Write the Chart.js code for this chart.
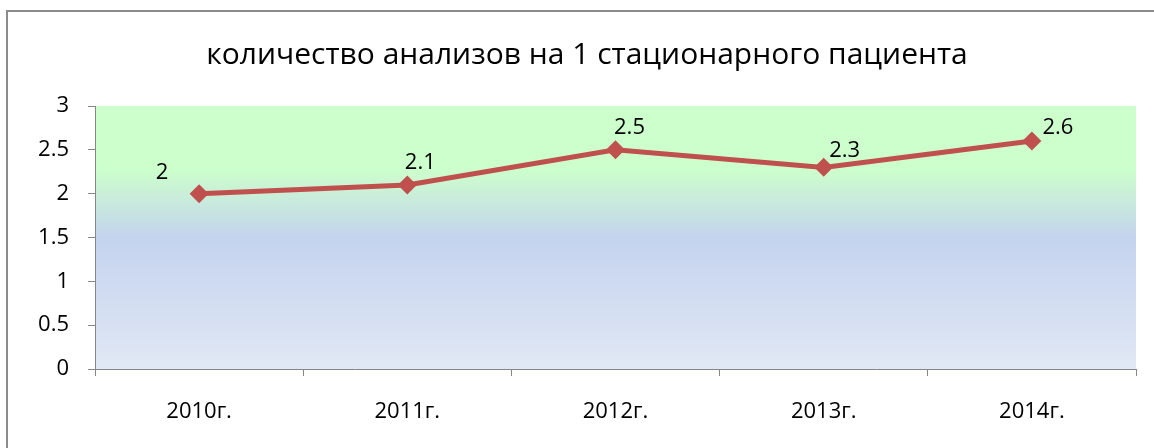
<!DOCTYPE html>
<html>
<head>
<meta charset="utf-8">
<script src="https://cdn.jsdelivr.net/npm/chart.js@4.4.0/dist/chart.umd.min.js"></script>
<style>
  html, body { margin: 0; padding: 0; background: #fff; }
  #wrap { width: 1154px; height: 448px; position: relative; }
</style>
</head>
<body>
<div id="wrap"><canvas id="lineChart"></canvas></div>
<script>
// данные графика
var chartTitle = 'количество анализов на 1 стационарного пациента';
var years = ['2010г.', '2011г.', '2012г.', '2013г.', '2014г.'];
var analyses = [2, 2.1, 2.5, 2.3, 2.6];
var yTicks = [0, 0.5, 1, 1.5, 2, 2.5, 3];

var FONT = '"Open Sans", "DejaVu Sans", sans-serif';

// рамка диаграммы и фон области построения
var backPlugin = {
  id: 'backPlugin',
  beforeDraw: function(chart) {
    var ctx = chart.ctx, a = chart.chartArea;
    ctx.save();
    ctx.strokeStyle = '#8c8c8c';
    ctx.lineWidth = 2;
    ctx.strokeRect(7, 11, 1160, 460);
    var g = ctx.createLinearGradient(0, a.top, 0, a.bottom);
    g.addColorStop(0, '#ccffcc');
    g.addColorStop(0.24, '#ccffcc');
    g.addColorStop(0.5, '#c4d3ee');
    g.addColorStop(1, '#e1e8f5');
    ctx.fillStyle = g;
    ctx.fillRect(a.left, a.top, a.right - a.left, a.bottom - a.top);
    ctx.restore();
  }
};

// подписи значений (смещения как в исходной диаграмме)
var labelShift = [[-37, -21], [13, -22], [14, -22], [21, -17], [26, -13]];
var labelPlugin = {
  id: 'labelPlugin',
  afterDatasetsDraw: function(chart) {
    var ctx = chart.ctx;
    var meta = chart.getDatasetMeta(0);
    ctx.save();
    ctx.font = '22px ' + FONT;
    ctx.fillStyle = '#000';
    ctx.textAlign = 'center';
    ctx.textBaseline = 'middle';
    meta.data.forEach(function(pt, i) {
      ctx.fillText(String(analyses[i]), pt.x + labelShift[i][0], pt.y + labelShift[i][1]);
    });
    ctx.restore();
  }
};

var ctxLine = document.getElementById('lineChart').getContext('2d');
var lineChart = new Chart(ctxLine, {
  type: 'line',
  data: {
    labels: years,
    datasets: [{
      label: chartTitle,
      data: analyses,
      borderColor: '#c0504d',
      backgroundColor: '#c0504d',
      borderWidth: 5,
      pointStyle: 'rectRot',
      pointRadius: 9.5,
      pointBorderWidth: 0,
      pointBackgroundColor: '#c0504d',
      tension: 0,
      fill: false
    }]
  },
  options: {
    responsive: true,
    maintainAspectRatio: false,
    animation: false,
    layout: { padding: { left: 38, right: 18, top: 0, bottom: 0 } },
    plugins: {
      legend: { display: false },
      tooltip: { enabled: false },
      title: {
        display: true,
        text: chartTitle,
        color: '#000',
        font: { family: FONT, size: 30, weight: 'normal' },
        padding: { top: 37, bottom: 33 }
      }
    },
    scales: {
      x: {
        offset: true,
        grid: { display: true, drawOnChartArea: false, drawTicks: true, tickLength: 7, offset: true, color: '#868686' },
        border: { color: '#868686', width: 1 },
        ticks: { color: '#000', font: { family: FONT, size: 22 }, padding: 23 },
        afterFit: function(scale) { scale.height = 79; }
      },
      y: {
        min: 0,
        max: 3,
        afterBuildTicks: function(scale) {
          scale.ticks = yTicks.map(function(v) { return { value: v }; });
        },
        grid: { display: true, drawOnChartArea: false, drawTicks: true, tickLength: 7, color: '#868686' },
        border: { color: '#868686', width: 1 },
        ticks: {
          color: '#000',
          font: { family: FONT, size: 22 },
          padding: 19,
          callback: function(v) { return String(v); }
        },
        afterFit: function(scale) { scale.width = 57; }
      }
    }
  },
  plugins: [backPlugin, labelPlugin]
});
</script>
</body>
</html>
